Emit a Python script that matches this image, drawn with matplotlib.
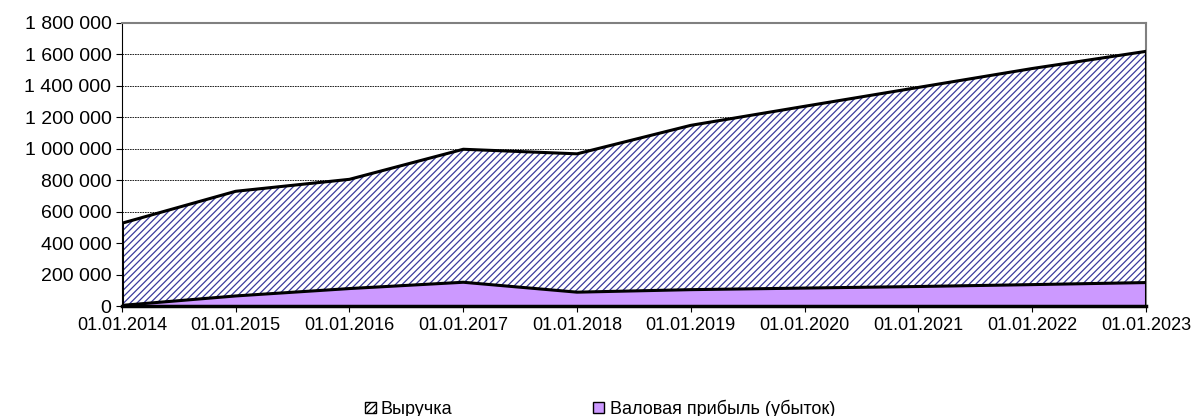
import matplotlib
matplotlib.use("Agg")
import matplotlib.pyplot as plt
from matplotlib.patches import Patch
from matplotlib.ticker import FuncFormatter

plt.rcParams['font.family'] = ['Liberation Sans', 'DejaVu Sans']
plt.rcParams['hatch.color'] = '#3a3a9c'
plt.rcParams['hatch.linewidth'] = 0.9

dates = ['01.01.2014', '01.01.2015', '01.01.2016', '01.01.2017', '01.01.2018',
         '01.01.2019', '01.01.2020', '01.01.2021', '01.01.2022', '01.01.2023']
revenue = [527000, 730000, 806000, 997000, 968000, 1149000, 1270000, 1390000, 1510000, 1619000]
gross_profit = [5000, 65000, 112000, 152000, 89000, 105000, 115000, 125000, 137000, 150000]
series_names = ['Выручка', 'Валовая прибыль (убыток)']

fig = plt.figure(figsize=(11.95, 4.16), dpi=100)
ax = fig.add_axes([0.102, 0.264, 0.857, 0.681])
x = list(range(len(dates)))

ax.fill_between(x, 0, revenue, facecolor='white', hatch='/////', edgecolor='#3a3a9c', linewidth=0, zorder=2)
ax.plot(x, revenue, color='black', lw=2.2, zorder=4)
ax.fill_between(x, 0, gross_profit, facecolor='#CC99FF', linewidth=0, zorder=3)
ax.plot(x, gross_profit, color='black', lw=2.2, zorder=4)
ax.plot([x[0], x[0]], [0, revenue[0]], color='black', lw=2.2, zorder=4)
ax.plot([x[-1], x[-1]], [0, revenue[-1]], color='black', lw=2.2, zorder=4)
ax.plot([x[0], x[-1]], [0, 0], color='black', lw=2.5, zorder=5, clip_on=False)

ax.set_xlim(0, len(dates) - 1)
ax.set_ylim(0, 1800000)
ax.set_yticks(range(0, 1800001, 200000))
ax.yaxis.set_major_formatter(FuncFormatter(lambda v, p: f"{int(v):,}".replace(',', ' ')))
ax.set_xticks(x)
ax.set_xticklabels(dates)
ax.tick_params(axis='both', length=4, color='black')
ax.tick_params(axis='x', labelsize=13)
ax.tick_params(axis='y', labelsize=14)
ax.grid(axis='y', color='black', linestyle=(0, (2, 1)), linewidth=0.6, zorder=1)
for s in ['top', 'right']:
    ax.spines[s].set_color('#808080')
    ax.spines[s].set_linewidth(1.5)
ax.spines['left'].set_color('black')
ax.spines['bottom'].set_color('black')

handles = [Patch(facecolor='white', hatch='/////', edgecolor='black', label=series_names[0]),
           Patch(facecolor='#CC99FF', edgecolor='black', label=series_names[1])]
fig.legend(handles=handles, loc='center', bbox_to_anchor=(0.502, 0.018), ncol=2, frameon=False,
           fontsize=13, handlelength=0.6, handleheight=0.6, handletextpad=0.3, columnspacing=7.8)

fig.savefig('out.png', dpi=100)
